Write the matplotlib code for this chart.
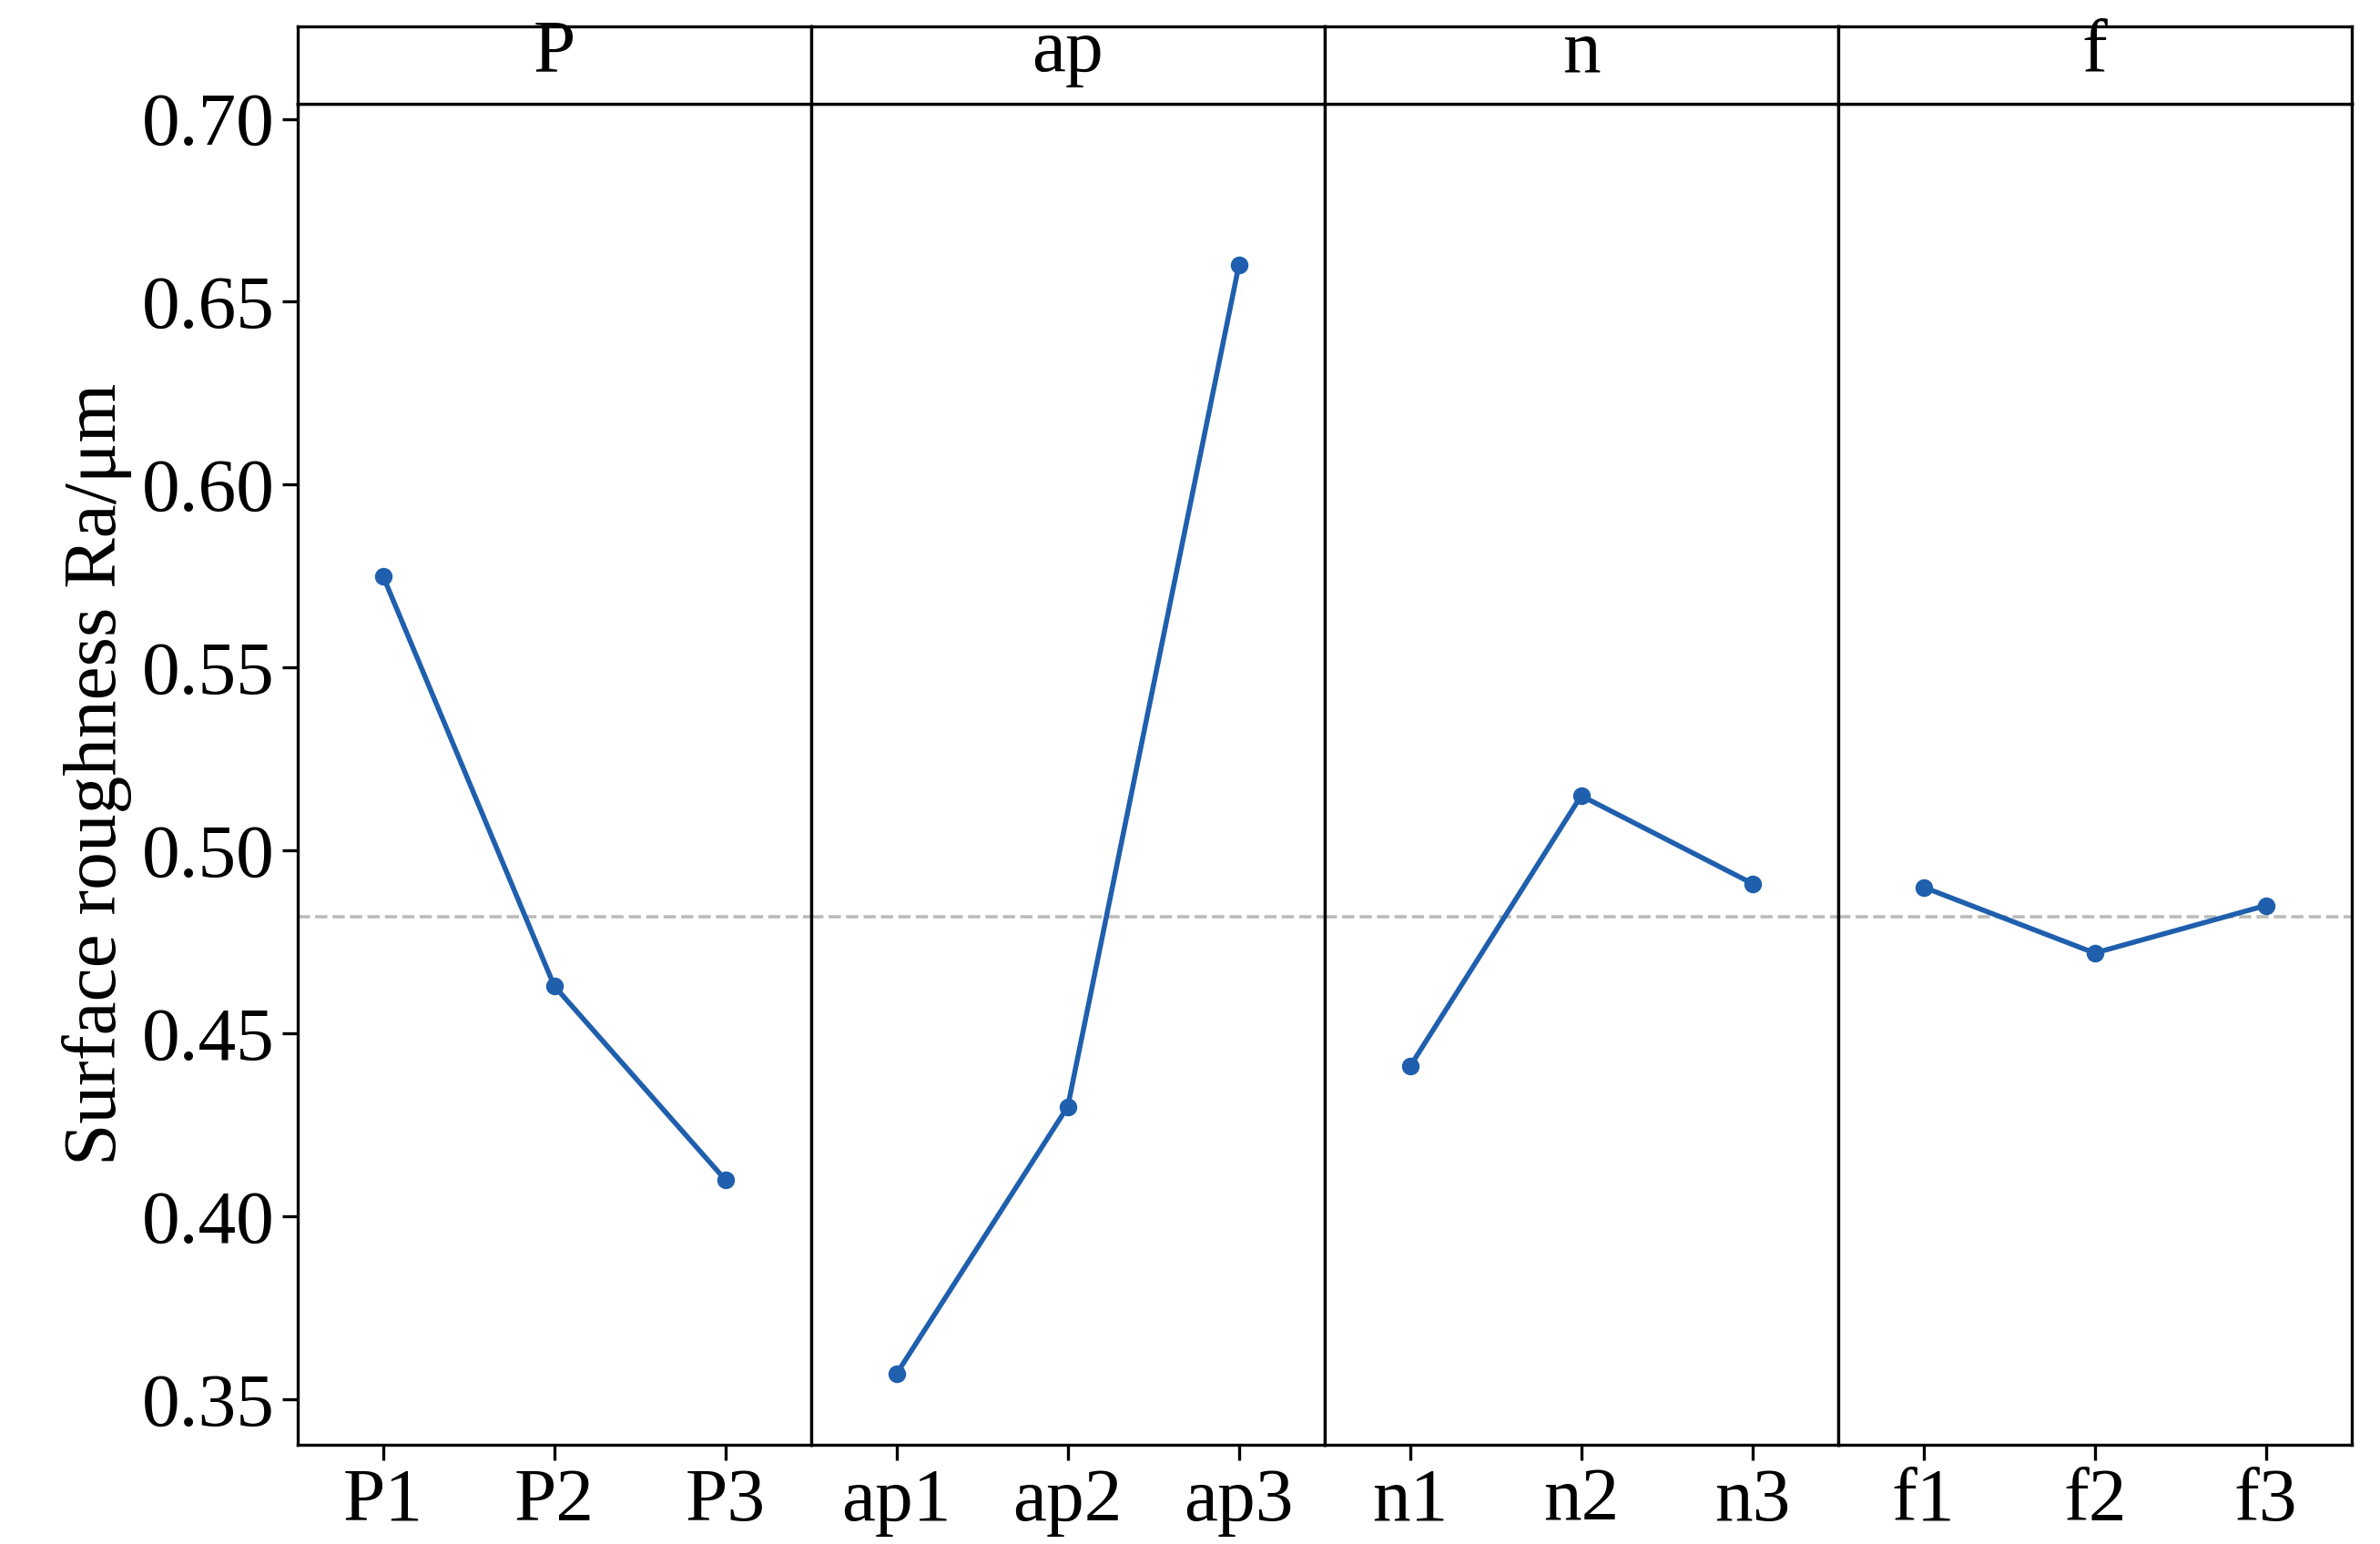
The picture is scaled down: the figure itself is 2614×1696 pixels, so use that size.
import matplotlib.pyplot as plt

plt.rcParams['font.family'] = ['Liberation Serif', 'DejaVu Serif']

factors = ["P", "ap", "n", "f"]
levels = [["P1", "P2", "P3"], ["ap1", "ap2", "ap3"], ["n1", "n2", "n3"], ["f1", "f2", "f3"]]
means = [[0.575, 0.463, 0.410],
         [0.357, 0.430, 0.660],
         [0.441, 0.515, 0.491],
         [0.490, 0.472, 0.485]]
grand_mean = 0.482

fig = plt.figure(figsize=(13.07, 8.48), dpi=200)
left, right, bottom, top, strip_top = 0.125, 0.988, 0.064, 0.933, 0.983
w = (right - left) / 4
color = "#1f5fad"

for i, fac in enumerate(factors):
    ax = fig.add_axes([left + i * w, bottom, w, top - bottom])
    x = range(3)
    ax.plot(x, means[i], color=color, lw=2, marker="o", ms=6)
    ax.axhline(grand_mean, color="#bbbbbb", ls="--", lw=1.3, zorder=0)
    ax.set_xlim(-0.5, 2.5)
    ax.set_ylim(0.3375, 0.7042)
    ax.set_xticks(list(x))
    ax.set_xticklabels(levels[i])
    ax.tick_params(axis="x", labelsize=30, length=6, width=1.2, pad=3)
    if i == 0:
        ax.set_yticks([0.35, 0.40, 0.45, 0.50, 0.55, 0.60, 0.65, 0.70])
        ax.set_yticklabels([f"{v:.2f}" for v in ax.get_yticks()])
        ax.tick_params(axis="y", labelsize=30, length=6, width=1.2, pad=3)
        ax.set_ylabel("Surface roughness Ra/μm", fontsize=30, labelpad=4)
    else:
        ax.set_yticks([])
    for s in ax.spines.values():
        s.set_linewidth(1.2)

    sax = fig.add_axes([left + i * w, top, w, strip_top - top])
    sax.set_xticks([])
    sax.set_yticks([])
    for s in sax.spines.values():
        s.set_linewidth(1.2)
    sax.text(0.5, 0.65, fac, ha="center", va="center", fontsize=30, transform=sax.transAxes)

fig.savefig("out.png", dpi=200)
